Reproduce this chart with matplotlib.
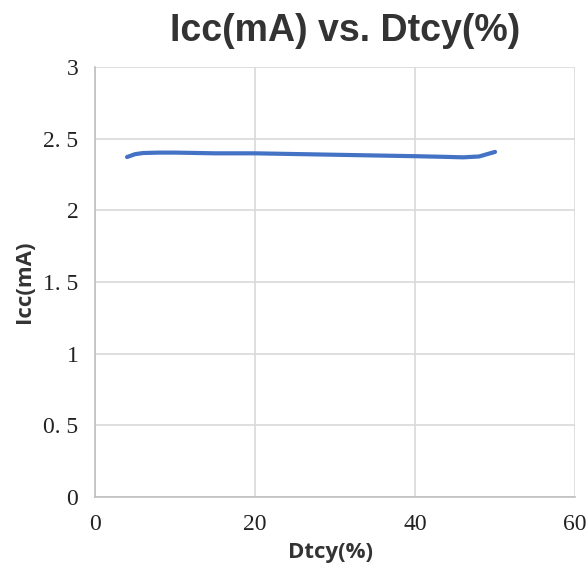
import matplotlib
matplotlib.use('Agg')
import matplotlib.pyplot as plt
import numpy as np

# duty cycle (%) and supply current (mA)
dtcy = [4, 5, 6, 8, 10, 15, 20, 25, 30, 35, 40, 44, 46, 48, 50]
icc = [2.372, 2.392, 2.400, 2.403, 2.403, 2.398, 2.398, 2.393, 2.388, 2.383, 2.378, 2.373, 2.370, 2.376, 2.408]

xticks = [0, 20, 40, 60]
yticks = [0, 0.5, 1, 1.5, 2, 2.5, 3]
ytick_labels = ['0', '0. 5', '1', '1. 5', '2', '2. 5', '3']

fig = plt.figure(figsize=(5.88, 5.73), dpi=100)
ax = fig.add_axes([0.1616, 0.1326, 0.8164, 0.7504])

ax.plot(dtcy, icc, color='#4472c4', linewidth=3, solid_capstyle='round')

ax.set_xlim(0, 60)
ax.set_ylim(0, 3)
ax.set_xticks(xticks)
ax.set_yticks(yticks)
ax.set_xticklabels([str(t) for t in xticks], family='Liberation Serif', fontsize=17, color='#222222')
ax.set_yticklabels(ytick_labels, family='Liberation Serif', fontsize=17, color='#222222')
ax.tick_params(length=0, pad=12)

ax.grid(True, color='#d9d9d9', linewidth=1.2)
ax.set_axisbelow(True)
for s in ['top', 'right']:
    ax.spines[s].set_visible(False)
for s in ['left', 'bottom']:
    ax.spines[s].set_color('#bfbfbf')
    ax.spines[s].set_linewidth(1.2)

# x label sits a bit left of the axes centre in the reference
ax.set_xlabel('Dtcy(%)', family='Open Sans', fontweight='bold', fontsize=16, color='#333333', labelpad=6)
ax.xaxis.set_label_coords(0.49, -0.105)
ax.set_ylabel('Icc(mA)', family='Open Sans', fontweight='bold', fontsize=16, color='#333333', labelpad=6)
fig.text(0.587, 0.946, 'Icc(mA) vs. Dtcy(%)', family='Liberation Sans', fontweight='bold',
         fontsize=27, color='#333333', ha='center', va='center')

fig.savefig('out.png', dpi=100)
